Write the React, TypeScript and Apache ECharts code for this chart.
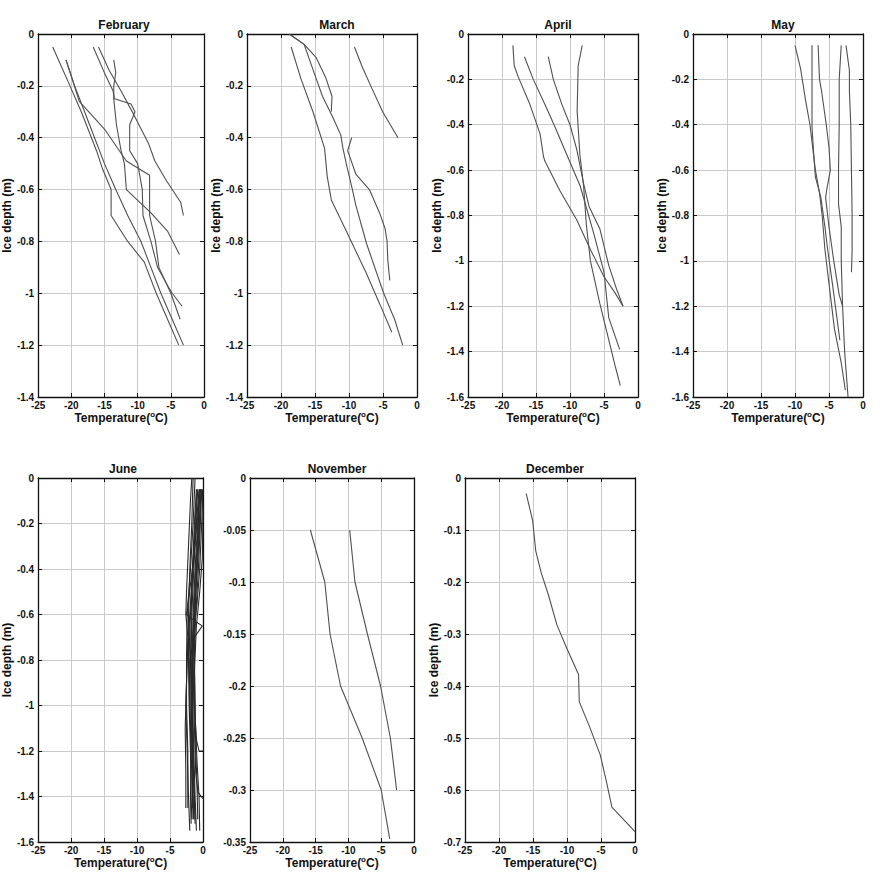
import React, { useEffect, useRef } from "react";
import * as echarts from "echarts";

type Pt = [number, number];

// Each profile: [temperature (°C), ice depth (m)]
const FEBRUARY: Pt[][] = [
  [[-22.8, -0.05], [-20.2, -0.2], [-18.5, -0.3], [-16.2, -0.45], [-15.3, -0.52], [-14, -0.6], [-14, -0.7], [-11.5, -0.8], [-9, -0.88], [-7.2, -1.0], [-5.5, -1.1], [-3.8, -1.2]],
  [[-20.8, -0.1], [-19.5, -0.2], [-18, -0.3], [-16.5, -0.4], [-15, -0.5], [-13.3, -0.6], [-11.5, -0.7], [-9.5, -0.8], [-8, -0.9], [-6.5, -1.0], [-4.8, -1.1], [-3.1, -1.2]],
  [[-20.8, -0.1], [-18.8, -0.26], [-14.9, -0.37], [-11.7, -0.49], [-8.2, -0.545], [-8.2, -0.7], [-7.3, -0.8], [-6.8, -0.9], [-5, -1.0], [-3.6, -1.1]],
  [[-15.9, -0.05], [-14.3, -0.14], [-12.5, -0.22], [-10.6, -0.31], [-8.4, -0.42], [-7.4, -0.49], [-5.8, -0.56], [-3.5, -0.65], [-3.1, -0.7]],
  [[-16.7, -0.05], [-15, -0.15], [-13.7, -0.22], [-13.5, -0.25], [-11, -0.27], [-10.4, -0.3], [-11.2, -0.35], [-11.2, -0.45], [-10, -0.5], [-9.3, -0.6], [-9.2, -0.7], [-8, -0.8], [-7, -0.9], [-5.5, -0.97], [-4.8, -1.0], [-3.3, -1.05]],
  [[-13.6, -0.1], [-13.3, -0.15], [-13.6, -0.2], [-13.6, -0.25], [-13.2, -0.35], [-12.5, -0.45], [-12, -0.5], [-11.7, -0.6], [-8, -0.69], [-5.5, -0.76], [-3.7, -0.85]],
];

const MARCH: Pt[][] = [
  [[-18.8, 0], [-16.6, -0.04], [-14.85, -0.09], [-13.4, -0.17], [-12.5, -0.24], [-12.6, -0.3]],
  [[-18.8, 0], [-16.6, -0.04], [-14.85, -0.17], [-13.9, -0.24], [-12.4, -0.32], [-11.2, -0.39], [-10.9, -0.44], [-10.4, -0.5], [-9.5, -0.6], [-9, -0.66], [-7.4, -0.81], [-4.9, -1.0], [-3.3, -1.1], [-2.1, -1.2]],
  [[-9.6, -0.4], [-10.2, -0.45], [-9, -0.54], [-7, -0.6], [-5.5, -0.69], [-4.7, -0.75], [-4.4, -0.8], [-4.3, -0.87], [-4, -0.95]],
  [[-18.5, -0.05], [-17.1, -0.17], [-15.3, -0.3], [-13.6, -0.44], [-13.2, -0.55], [-12.6, -0.64], [-10.4, -0.76], [-7.5, -0.92], [-5.5, -1.04], [-3.7, -1.15]],
  [[-9.2, -0.05], [-8, -0.13], [-6.8, -0.2], [-5.05, -0.3], [-2.8, -0.4]],
];

const APRIL: Pt[][] = [
  [[-18.4, -0.05], [-18.2, -0.14], [-17.6, -0.19], [-15.9, -0.31], [-14.4, -0.44], [-13.9, -0.54], [-13.7, -0.56], [-11.5, -0.69], [-9, -0.82], [-7, -0.95], [-5, -1.07], [-3.4, -1.14], [-2.2, -1.2]],
  [[-16.7, -0.1], [-15.4, -0.2], [-13.7, -0.31], [-12.2, -0.41], [-10.5, -0.53], [-8.5, -0.67], [-6.5, -0.88], [-5, -1.05], [-4.3, -1.25], [-2.7, -1.39]],
  [[-13.2, -0.1], [-12.45, -0.2], [-11.2, -0.31], [-10, -0.4], [-9, -0.51], [-8, -0.66], [-7.2, -0.76], [-5.6, -0.86], [-4.3, -1.02], [-3.2, -1.12], [-2.2, -1.2]],
  [[-8.2, -0.05], [-8.8, -0.14], [-8.95, -0.34], [-8.55, -0.53], [-8, -0.67], [-7.6, -0.84], [-7, -1.0], [-5.6, -1.19], [-4.2, -1.36], [-3.3, -1.47], [-2.6, -1.55]],
];

const MAY: Pt[][] = [
  [[-10, -0.05], [-9.2, -0.15], [-8.4, -0.3], [-7.8, -0.4], [-7.4, -0.5], [-7, -0.6], [-6.4, -0.7], [-6, -0.8], [-5.6, -0.95], [-5, -1.1], [-4.2, -1.3], [-3.2, -1.45], [-2.6, -1.57]],
  [[-7.5, -0.05], [-7.5, -0.25], [-7.5, -0.41], [-7.2, -0.55], [-7, -0.63], [-6.2, -0.72], [-5.6, -0.85], [-5.2, -0.95], [-4.5, -1.1], [-3.4, -1.35]],
  [[-6.6, -0.05], [-6.4, -0.2], [-6.1, -0.25], [-5.4, -0.4], [-5, -0.5], [-4.8, -0.6], [-5.3, -0.68], [-5.5, -0.72], [-5, -0.85], [-4.3, -1.0], [-3.5, -1.15], [-3, -1.2]],
  [[-3.2, -0.05], [-3.5, -0.2], [-3.5, -0.4], [-3.6, -0.6], [-3.6, -0.75], [-3.2, -0.85], [-3.2, -1.0], [-3, -1.2], [-2.7, -1.4], [-2.2, -1.6]],
  [[-2.5, -0.05], [-2, -0.16], [-2, -0.25], [-1.8, -0.4], [-1.7, -0.6], [-1.6, -0.8], [-1.6, -0.95], [-1.7, -1.05]],
];

const JUNE: Pt[][] = [
  [[-1.0, -0.05], [-1.3, -0.2], [-1.6, -0.4], [-1.8, -0.6], [-1.9, -0.8], [-1.8, -1.0], [-1.6, -1.2], [-1.5, -1.4], [-1.4, -1.5]],
  [[-0.6, -0.05], [-1.0, -0.2], [-1.4, -0.4], [-1.7, -0.6], [-1.8, -0.8], [-1.7, -1.0], [-1.5, -1.2], [-1.3, -1.4], [-1.2, -1.52]],
  [[-0.4, -0.05], [-0.8, -0.2], [-1.2, -0.4], [-1.5, -0.6], [-1.6, -0.8], [-1.6, -1.0], [-1.4, -1.2], [-1.2, -1.4], [-1.0, -1.55]],
  [[-1.5, 0], [-1.7, -0.2], [-2.0, -0.4], [-2.2, -0.6], [-2.2, -0.8], [-2.1, -1.0], [-1.9, -1.2], [-1.8, -1.4], [-1.7, -1.5]],
  [[-1.2, 0], [-1.5, -0.2], [-1.9, -0.4], [-2.4, -0.6], [-2.5, -0.8], [-2.5, -1.0], [-2.3, -1.2], [-2.3, -1.35], [-2.3, -1.45]],
  [[-0.3, -0.05], [-0.5, -0.2], [-0.9, -0.4], [-1.3, -0.6], [-1.5, -0.8], [-1.4, -1.0], [-1.2, -1.2], [-1.1, -1.3], [-0.8, -1.38], [0, -1.41]],
  [[-0.2, -0.05], [-0.4, -0.2], [-0.7, -0.4], [-1.1, -0.6], [-1.4, -0.8], [-1.3, -1.0], [-1.0, -1.15], [-0.6, -1.2], [0, -1.2]],
  [[-0.5, -0.05], [-0.9, -0.2], [-1.6, -0.4], [-2.5, -0.6], [-1.2, -0.63], [-0.1, -0.65], [-1.3, -0.7], [-2.0, -0.8], [-2.0, -1.0], [-1.8, -1.2], [-1.9, -1.4], [-1.8, -1.52]],
  [[-0.1, -0.05], [0, -0.15], [-0.1, -0.35], [-0.5, -0.5], [-1.0, -0.65], [-1.3, -0.85], [-1.2, -1.05], [-0.9, -1.25], [-0.6, -1.4], [-0.5, -1.55]],
  [[-0.8, -0.05], [-1.1, -0.2], [-1.6, -0.4], [-2.0, -0.6], [-2.4, -0.8], [-2.6, -1.0], [-2.4, -1.2], [-2.2, -1.4], [-2.0, -1.55]],
  [[-0.5, -0.05], [-0.7, -0.2], [-1.1, -0.4], [-1.4, -0.6], [-1.7, -0.8], [-1.8, -1.0], [-1.7, -1.2], [-1.6, -1.35], [-1.5, -1.45]],
  [[-1.7, 0], [-1.9, -0.1], [-2.2, -0.3], [-2.5, -0.5], [-2.6, -0.6], [-2.3, -0.7], [-2.5, -0.9], [-2.7, -1.1], [-2.6, -1.3], [-2.6, -1.45]],
  [[-0.2, -0.05], [-0.6, -0.2], [-1.0, -0.4], [-1.2, -0.6], [-1.3, -0.8], [-1.2, -1.0], [-1.1, -1.2], [-0.9, -1.35], [-0.8, -1.5]],
  [[-0.9, -0.05], [-1.2, -0.2], [-1.4, -0.35], [-1.7, -0.5], [-2.0, -0.65], [-2.1, -0.8], [-2.0, -1.0], [-1.8, -1.2], [-1.6, -1.4], [-1.5, -1.5]],
  [[-0.3, -0.05], [-0.6, -0.25], [-1.0, -0.45], [-1.3, -0.6], [-1.6, -0.75], [-1.6, -0.95], [-1.5, -1.15], [-1.4, -1.35], [-1.2, -1.5]],
  [[0, -0.05], [-0.2, -0.2], [-0.5, -0.4], [-0.9, -0.55], [-1.5, -0.7], [-1.7, -0.9], [-1.6, -1.1], [-1.5, -1.3], [-1.6, -1.45]],
];

const NOVEMBER: Pt[][] = [
  [[-15.8, -0.05], [-13.6, -0.1], [-12.8, -0.15], [-11.2, -0.2], [-7.9, -0.25], [-5, -0.3], [-3.7, -0.347]],
  [[-9.8, -0.05], [-9, -0.1], [-7.1, -0.15], [-5.1, -0.2], [-3.6, -0.25], [-2.65, -0.3]],
];

const DECEMBER: Pt[][] = [
  [[-16, -0.03], [-15.05, -0.082], [-14.6, -0.14], [-13.8, -0.182], [-12.75, -0.224], [-11.5, -0.282], [-10.05, -0.327], [-8.3, -0.378], [-8.2, -0.43], [-6.6, -0.481], [-5.1, -0.533], [-4.2, -0.584], [-3.4, -0.633], [0, -0.68]],
];

const TEMP_MIN = -25;
const TEMP_MAX = 0;
const TEMP_STEP = 5;

const PANELS = [
  { title: "February", data: FEBRUARY, yMin: -1.4, yStep: 0.2, left: 34, top: 34, width: 170, height: 363, yName: true },
  { title: "March", data: MARCH, yMin: -1.4, yStep: 0.2, left: 247, top: 34, width: 170, height: 363, yName: true },
  { title: "April", data: APRIL, yMin: -1.6, yStep: 0.2, left: 468, top: 34, width: 170, height: 363, yName: true },
  { title: "May", data: MAY, yMin: -1.6, yStep: 0.2, left: 693, top: 34, width: 170, height: 363, yName: true },
  { title: "June", data: JUNE, yMin: -1.6, yStep: 0.2, left: 33, top: 478, width: 170, height: 364, yName: true },
  { title: "November", data: NOVEMBER, yMin: -0.35, yStep: 0.05, left: 250, top: 478, width: 164, height: 364, yName: false },
  { title: "December", data: DECEMBER, yMin: -0.7, yStep: 0.1, left: 465, top: 478, width: 170, height: 364, yName: true },
];

const FONT = "'Liberation Sans', Arial, Helvetica, sans-serif";

const mkLine = () => ({ show: true, onZero: false, lineStyle: { color: "#111", width: 1.3 } });
const mkTick = () => ({ show: true, inside: true, length: 4, lineStyle: { color: "#111", width: 1 } });
const mkSplit = () => ({ show: true, lineStyle: { color: "#c9c9c9", width: 1, type: "solid" } });
const mkLabel = (margin: number) => ({ show: true, fontSize: 10, fontWeight: "bold", color: "#111", fontFamily: FONT, margin });

export default function App() {
  const ref = useRef<HTMLDivElement>(null);

  useEffect(() => {
    if (!ref.current) return;
    const chart = echarts.init(ref.current, undefined, { renderer: "svg" });

    const grid: any[] = [];
    const xAxis: any[] = [];
    const yAxis: any[] = [];
    const title: any[] = [];
    const series: any[] = [];

    PANELS.forEach((p, i) => {
      grid.push({ left: p.left, top: p.top, width: p.width, height: p.height, containLabel: false, show: false });
      title.push({
        text: p.title,
        left: p.left + p.width / 2,
        top: p.top - 20,
        textAlign: "center",
        textStyle: { fontSize: 12, fontWeight: "bold", color: "#111", fontFamily: FONT },
      });
      xAxis.push({
        type: "value",
        gridIndex: i,
        position: "bottom",
        min: TEMP_MIN,
        max: TEMP_MAX,
        interval: TEMP_STEP,
        axisLine: mkLine(),
        axisTick: mkTick(),
        splitLine: mkSplit(),
        axisLabel: mkLabel(3),
        name: "{a|Temperature(}{s|o}{a|C)}",
        nameLocation: "middle",
        nameGap: 12,
        nameTextStyle: {
          color: "#111",
          rich: {
            a: { fontSize: 12, fontWeight: "bold", color: "#111", fontFamily: FONT, lineHeight: 14 },
            s: { fontSize: 8, fontWeight: "bold", color: "#111", fontFamily: FONT, verticalAlign: "top", lineHeight: 14, padding: [0, 0, 6, 0] },
          },
        },
      });
      xAxis.push({
        type: "value",
        gridIndex: i,
        position: "top",
        min: TEMP_MIN,
        max: TEMP_MAX,
        interval: TEMP_STEP,
        axisLine: mkLine(),
        axisTick: mkTick(),
        splitLine: { show: false },
        axisLabel: { show: false },
      });
      yAxis.push({
        type: "value",
        gridIndex: i,
        position: "left",
        min: p.yMin,
        max: 0,
        interval: p.yStep,
        axisLine: mkLine(),
        axisTick: mkTick(),
        splitLine: mkSplit(),
        axisLabel: mkLabel(4),
        name: p.yName ? "Ice depth (m)" : "",
        nameLocation: "middle",
        nameRotate: 90,
        nameGap: 20,
        nameTextStyle: { fontSize: 12, fontWeight: "bold", color: "#111", fontFamily: FONT },
      });
      yAxis.push({
        type: "value",
        gridIndex: i,
        position: "right",
        min: p.yMin,
        max: 0,
        interval: p.yStep,
        axisLine: mkLine(),
        axisTick: mkTick(),
        splitLine: { show: false },
        axisLabel: { show: false },
      });
      p.data.forEach((profile) => {
        series.push({
          type: "line",
          xAxisIndex: 2 * i,
          yAxisIndex: 2 * i,
          data: profile,
          symbol: "none",
          showSymbol: false,
          silent: true,
          lineStyle: { color: i === 4 ? "#2a2a2a" : "#505050", width: 1.1 },
        });
      });
    });

    chart.setOption({
      animation: false,
      backgroundColor: "#ffffff",
      title,
      grid,
      xAxis,
      yAxis,
      series,
    });

    return () => chart.dispose();
  }, []);

  return (
    <div
      ref={ref}
      style={{ position: "absolute", left: 0, top: 0, width: 885, height: 892, background: "#fff" }}
    />
  );
}
